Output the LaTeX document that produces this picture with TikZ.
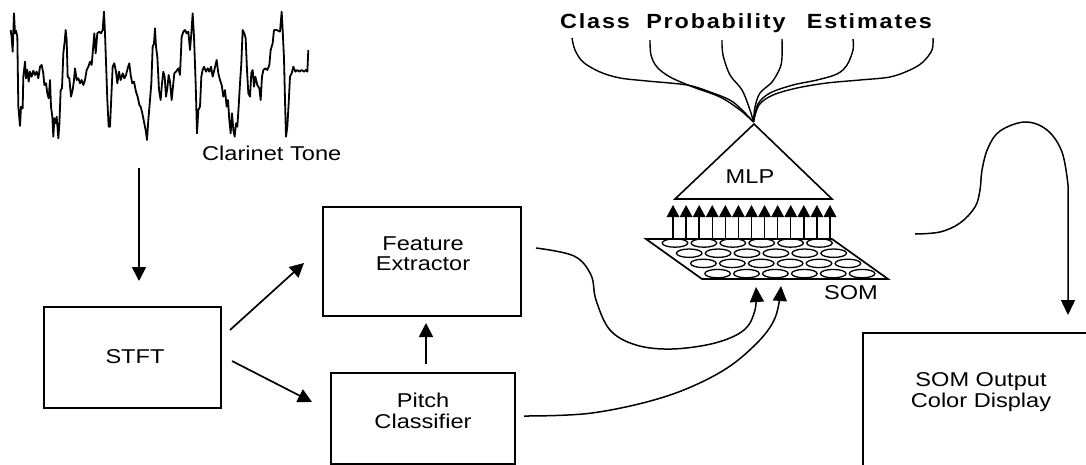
\documentclass[tikz,border=0pt]{standalone}
\usepackage{fontspec}
\setmainfont{Liberation Sans}
\newfontfamily\lblfont[FakeStretch=1.18]{Liberation Sans}
\newfontfamily\ttlfont[FakeStretch=1.14,LetterSpace=9]{Liberation Sans}
\usetikzlibrary{arrows.meta}
\begin{document}
\begin{tikzpicture}[x=1pt,y=-1pt,
  box/.style={draw, line width=1.8pt, inner sep=0pt, outer sep=0pt},
  lbl/.style={inner sep=0pt, align=center, font=\lblfont\fontsize{20}{20.5}\selectfont},
  arr/.style={line width=1.7pt, -{Triangle[length=14pt,width=14pt]}},
  carr/.style={line width=1.5pt, -{Triangle[length=15pt,width=14pt]}},
  mlparr/.style={line width=1.4pt, -{Triangle[length=12pt,width=12.5pt]}},
  wave/.style={line width=1.8pt, line join=round},
  fan/.style={line width=1.4pt},
]
\useasboundingbox (0,0) rectangle (1086,464);
\clip (0,0) rectangle (1086,464);

% waveform
\begin{scope}[xscale=1/3,yscale=1/3]
\draw[wave] plot coordinates {(32,90) (35,112) (38,155) (40,95) (42,40) (45,100) (48,92) (52,110) (55,320) (60,378) (63,320) (68,325) (70,230) (75,185) (78,235) (82,210) (86,245) (90,215) (95,230) (100,212) (105,225) (110,215) (115,235) (120,200) (125,195) (130,220) (133,255) (138,250) (142,280) (146,295) (150,240) (153,320) (157,350) (160,410) (163,355) (167,370) (170,350) (175,415) (178,375) (182,270) (186,265) (190,160) (194,125) (197,90) (200,120) (203,230) (208,235) (213,290) (218,270) (222,240) (225,205) (230,240) (235,235) (240,250) (245,240) (250,255) (255,240) (260,210) (265,200) (270,185) (275,195) (278,160) (283,100) (287,160) (292,100) (298,95) (303,100) (308,90) (312,35) (315,100) (318,185) (322,300) (326,380) (330,380) (334,290) (338,200) (343,190) (348,215) (352,250) (357,215) (362,240) (368,220) (373,235) (378,225) (383,205) (388,190) (392,225) (397,250) (402,245) (408,275) (413,290) (418,315) (422,320) (427,340) (432,365) (437,390) (441,420) (445,360) (450,300) (454,250) (458,140) (462,130) (465,85) (468,140) (472,170) (477,270) (482,300) (486,250) (490,215) (494,230) (498,290) (502,265) (506,225) (510,245) (515,300) (519,260) (523,220) (528,215) (535,205) (540,225) (545,110) (550,95) (555,90) (560,100) (565,95) (570,150) (574,100) (578,40) (582,110) (587,250) (591,400) (595,330) (600,320) (604,230) (608,210) (612,200) (618,215) (623,205) (628,215) (633,200) (638,230) (643,210) (650,180) (655,220) (660,240) (665,255) (670,290) (675,270) (680,320) (684,300) (688,360) (692,400) (696,340) (700,390) (704,410) (708,370) (712,380) (716,320) (720,250) (724,190) (728,90) (733,100) (737,115) (741,210) (745,280) (750,290) (754,220) (758,210) (762,260) (766,230) (772,255) (778,265) (782,300) (786,230) (790,210) (796,205) (802,210) (808,195) (812,150) (818,130) (822,90) (830,90) (840,95) (845,35) (848,90) (852,175) (855,300) (858,410) (862,380) (866,310) (870,230) (875,220) (880,200) (886,215) (892,210) (898,215) (905,210) (912,215) (918,210) (922,215) (925,150)};
\end{scope}
\node[lbl, anchor=base west] (clar) at (202,160) {Clarinet Tone};

% boxes
\node[box, minimum width=177pt, minimum height=101pt] (stft) at (132.5,357.5) {};
\node[lbl, anchor=base] (stfttext) at (135,363) {STFT};
\node[box, minimum width=198pt, minimum height=109pt] (feat) at (422,261.5) {};
\node[lbl] (feattext) at (423,253.9) {Feature\\Extractor};
\node[box, minimum width=184pt, minimum height=91pt] (pitch) at (423,418.5) {};
\node[lbl] (pitchtext) at (423,410.7) {Pitch\\Classifier};
\node[box, minimum width=240pt, minimum height=150pt] (somout) at (983,408) {};
\node[lbl] (somouttext) at (981,392.3) {SOM Output\\Color Display};

% straight arrows
\coordinate (a1s) at (139,168); \coordinate (a1e) at (139,281);
\coordinate (a2s) at (230,330); \coordinate (a2e) at (304,263);
\coordinate (a3s) at (232,361); \coordinate (a3e) at (312,402);
\coordinate (a4s) at (426,364); \coordinate (a4e) at (426,323);
\draw[arr] (a1s) -- (a1e);
\draw[arr] (a2s) -- (a2e);
\draw[arr] (a3s) -- (a3e);
\draw[arr] (a4s) -- (a4e);

% SOM grid
\draw[line width=1.7pt] (646,239) coordinate (gtl) -- (832,239) coordinate (gtr) -- (888,279) coordinate (gbr) -- (702,279) coordinate (gbl) -- cycle;
\foreach \r in {0,...,3}
  \foreach \c in {0,...,5}
    \draw[line width=1.3pt] ({675+14.2*\r+28.9*\c},{243+10.2*\r}) ellipse [x radius=12.8pt, y radius=4.2pt];
\node[lbl, anchor=base] (som) at (851,299) {SOM};

% arrows into MLP
\foreach \i in {0,...,12}
  \draw[mlparr] ({673+13.08*\i},239) -- ({673+13.08*\i},205);

% MLP triangle
\coordinate (apex) at (753.5,122);
\draw[line width=1.6pt, line join=miter] (675,199) coordinate (mlpl) -- (754,124) -- (832,199) coordinate (mlpr) -- cycle;
\node[lbl, anchor=base] (mlp) at (750,183) {MLP};

% title and fan
\node[anchor=base west, inner sep=0pt, font=\ttlfont\bfseries\fontsize{20.5}{22}\selectfont] (title) at (560,28) {Class\hspace{8pt} Probability\hspace{13pt} Estimates};
\draw[fan] plot[smooth, tension=0.55] coordinates {(572,38) (575,50) (583,62) (600,72) (620,78) (647,81) (687,85) (710,92) (733,102) (apex)};
\draw[fan] plot[smooth, tension=0.55] coordinates {(650,40) (651,55) (657,67) (670,77) (693,87) (720,97) (740,110) (apex)};
\draw[fan] plot[smooth, tension=0.55] coordinates {(722,40) (723,55) (730,75) (742,90) (750,110) (apex)};
\draw[fan] plot[smooth, tension=0.55] coordinates {(782,39) (782,57) (780,68) (772,82) (760,93) (755,107) (apex)};
\draw[fan] plot[smooth, tension=0.55] coordinates {(853,39) (853,50) (847,65) (837,74) (817,80) (793,85) (770,93) (758,104) (apex)};
\draw[fan] plot[smooth, tension=0.55] coordinates {(933,38) (932,50) (923,62) (910,70) (890,77) (860,80) (827,83) (797,88) (773,95) (759,105) (apex)};

% curved connectors into SOM
\coordinate (fc0) at (536,248); \coordinate (fc1) at (756,287);
\draw[carr] plot[smooth, tension=0.6] coordinates {(fc0) (574,256) (591,275) (596,300) (610,330) (636,345) (672,349) (715,343) (744,330) (755,310) (fc1)};
\coordinate (pc0) at (524,416); \coordinate (pc1) at (781,286);
\draw[carr] plot[smooth, tension=0.6] coordinates {(pc0) (592,413) (664,397) (719,373) (755,345) (775,318) (pc1)};

% SOM to output display
\coordinate (oc0) at (915,234); \coordinate (oc1) at (1068,315);
\draw[carr] plot[smooth, tension=0.6] coordinates {(oc0) (940,232) (960,223) (975,207) (980,190) (982,170) (988,148) (1000,131) (1025,122) (1047,130) (1062,152) (1068,185)} -- (oc1);
\end{tikzpicture}
\end{document}
